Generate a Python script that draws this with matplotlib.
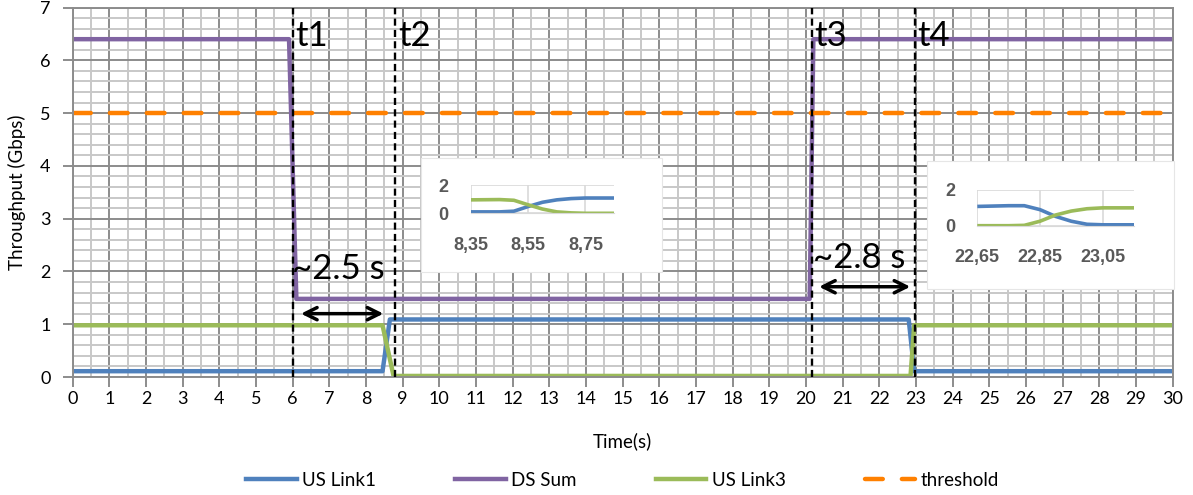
import matplotlib.pyplot as plt
from matplotlib.patches import Rectangle

plt.rcParams['font.family'] = ['Lato', 'DejaVu Sans']

# main series
t_link1 = [0, 8.45, 8.65, 22.8, 22.95, 30]
us_link1 = [0.11, 0.11, 1.09, 1.09, 0.11, 0.11]
t_ds = [0, 5.9, 6.1, 20.1, 20.2, 30]
ds_sum = [6.4, 6.4, 1.48, 1.48, 6.4, 6.4]
t_link3 = [0, 8.45, 8.75, 22.85, 22.95, 30]
us_link3 = [0.98, 0.98, 0.02, 0.02, 0.98, 0.98]
threshold = 5.0

# event markers
events = [6.0, 8.79, 20.15, 22.96]
event_labels = ['t1', 't2', 't3', 't4']

# zoomed insets
zoom1_t = [8.35, 8.40, 8.45, 8.50, 8.55, 8.60, 8.65, 8.70, 8.75, 8.80, 8.85]
zoom1_link1 = [0.1, 0.1, 0.1, 0.15, 0.48, 0.78, 0.95, 1.04, 1.08, 1.08, 1.08]
zoom1_link3 = [0.95, 0.96, 0.97, 0.92, 0.6, 0.3, 0.1, 0.03, 0.0, 0.0, 0.0]
zoom1_ticks = [8.35, 8.55, 8.75]
zoom1_ticklabels = ['8,35', '8,55', '8,75']

zoom2_t = [22.65, 22.70, 22.75, 22.80, 22.85, 22.90, 22.95, 23.00, 23.05, 23.10, 23.15]
zoom2_link1 = [1.08, 1.1, 1.12, 1.12, 0.9, 0.52, 0.25, 0.08, 0.05, 0.05, 0.05]
zoom2_link3 = [0.0, 0.0, 0.0, 0.02, 0.25, 0.6, 0.82, 0.95, 1.0, 1.0, 1.0]
zoom2_ticks = [22.65, 22.85, 23.05]
zoom2_ticklabels = ['22,65', '22,85', '23,05']

BLUE = '#4F81BD'
PURPLE = '#8064A2'
GREEN = '#9BBB59'
ORANGE = '#FF8000'
MAJOR = '#8c8c8c'
MINOR = '#c8c8c8'

W, H = 1193, 495
fig = plt.figure(figsize=(W / 100, H / 100), dpi=100)

def frac(x0, y0, x1, y1):
    # pixel box -> figure fraction [left, bottom, width, height]
    return [x0 / W, 1 - y1 / H, (x1 - x0) / W, (y1 - y0) / H]

ax = fig.add_axes(frac(72.7, 7.5, 1172.7, 377))
ax.set_xlim(0, 30)
ax.set_ylim(0, 7)
ax.set_xticks(range(0, 31))
ax.set_yticks(range(0, 8))
ax.set_xticks([x + 0.5 for x in range(30)], minor=True)
ax.set_yticks([y / 5 for y in range(36) if y % 5], minor=True)
ax.grid(which='minor', color=MINOR, lw=1.4)
ax.grid(which='major', color=MAJOR, lw=1.4)
ax.set_axisbelow(True)
ax.tick_params(which='major', length=7, width=1.4, color=MAJOR, labelsize=13, pad=3)
ax.tick_params(axis='y', which='major', pad=9)
ax.tick_params(which='minor', length=0)
for s in ax.spines.values():
    s.set_color(MAJOR)
    s.set_linewidth(1.4)

ax.plot(t_link1, us_link1, color=BLUE, lw=3.2, label='US Link1', solid_joinstyle='round')
ax.plot(t_ds, ds_sum, color=PURPLE, lw=3.2, label='DS Sum', solid_joinstyle='round')
ax.plot(t_link3, us_link3, color=GREEN, lw=3.2, label='US Link3', solid_joinstyle='round')
ax.plot([0, 30], [threshold, threshold], color=ORANGE, lw=3.2, dashes=(4.0, 4.3),
        dash_capstyle='round', label='threshold')

for x, lab in zip(events, event_labels):
    ax.axvline(x, color='black', lw=1.7, dashes=(3, 1.8), zorder=5)
    ax.text(x + 0.08, 6.28, lab, fontsize=25, va='baseline', ha='left', zorder=6)

ax.text(5.98, 1.86, '~2.5 s', fontsize=25, va='baseline', ha='left', zorder=6)
ax.text(20.18, 2.06, '~2.8 s', fontsize=25, va='baseline', ha='left', zorder=6)
ax.annotate('', xy=(8.55, 1.2), xytext=(6.15, 1.2),
            arrowprops=dict(arrowstyle='<->', lw=2.5, color='black', mutation_scale=22), zorder=6)
ax.annotate('', xy=(22.92, 1.71), xytext=(20.28, 1.71),
            arrowprops=dict(arrowstyle='<->', lw=2.5, color='black', mutation_scale=22), zorder=6)

ax.set_xlabel('Time(s)', fontsize=13.5, labelpad=18)
ax.set_ylabel('Throughput (Gbps)', fontsize=13.5, labelpad=10)
ax.legend(loc='center', bbox_to_anchor=(0.5, -0.279), ncol=4, frameon=False,
          fontsize=13.5, handlelength=2.7, handletextpad=0.3, columnspacing=4.2)

def inset(box, inner, t, l1, l3, ticks, ticklabels, xmax):
    x0, y0, x1, y1 = box
    fig.patches.append(Rectangle((x0 / W, 1 - y1 / H), (x1 - x0) / W, (y1 - y0) / H,
                                 transform=fig.transFigure, facecolor='white',
                                 edgecolor='#e6e6e6', lw=0.8, zorder=1))
    iax = fig.add_axes(frac(*inner), zorder=2)
    iax.patch.set_alpha(0)
    iax.plot(t, l1, color=BLUE, lw=2.6, solid_capstyle='butt')
    iax.plot(t, l3, color=GREEN, lw=2.6, solid_capstyle='butt')
    iax.set_xlim(ticks[0], xmax)
    iax.set_ylim(0, 2)
    iax.set_xticks(ticks)
    iax.set_xticklabels(ticklabels)
    iax.set_yticks([0, 2])
    iax.grid(color='#d9d9d9', lw=1.2)
    iax.set_axisbelow(True)
    for s in iax.spines.values():
        s.set_visible(False)
    iax.spines['bottom'].set_visible(True)
    iax.spines['bottom'].set_color('#d9d9d9')
    iax.tick_params(length=0, labelsize=13, labelcolor='#595959')
    iax.tick_params(axis='x', pad=17)
    iax.tick_params(axis='y', pad=16)
    for lab in iax.get_xticklabels() + iax.get_yticklabels():
        lab.set_fontfamily('Liberation Sans')
        lab.set_fontweight('bold')

inset((421, 158, 662, 272), (471, 185, 614, 213.3), zoom1_t, zoom1_link1, zoom1_link3,
      zoom1_ticks, zoom1_ticklabels, 8.85)
inset((927, 161, 1174, 289), (977.3, 190, 1134, 225.7), zoom2_t, zoom2_link1, zoom2_link3,
      zoom2_ticks, zoom2_ticklabels, 23.15)

fig.savefig('out.png', dpi=100)
